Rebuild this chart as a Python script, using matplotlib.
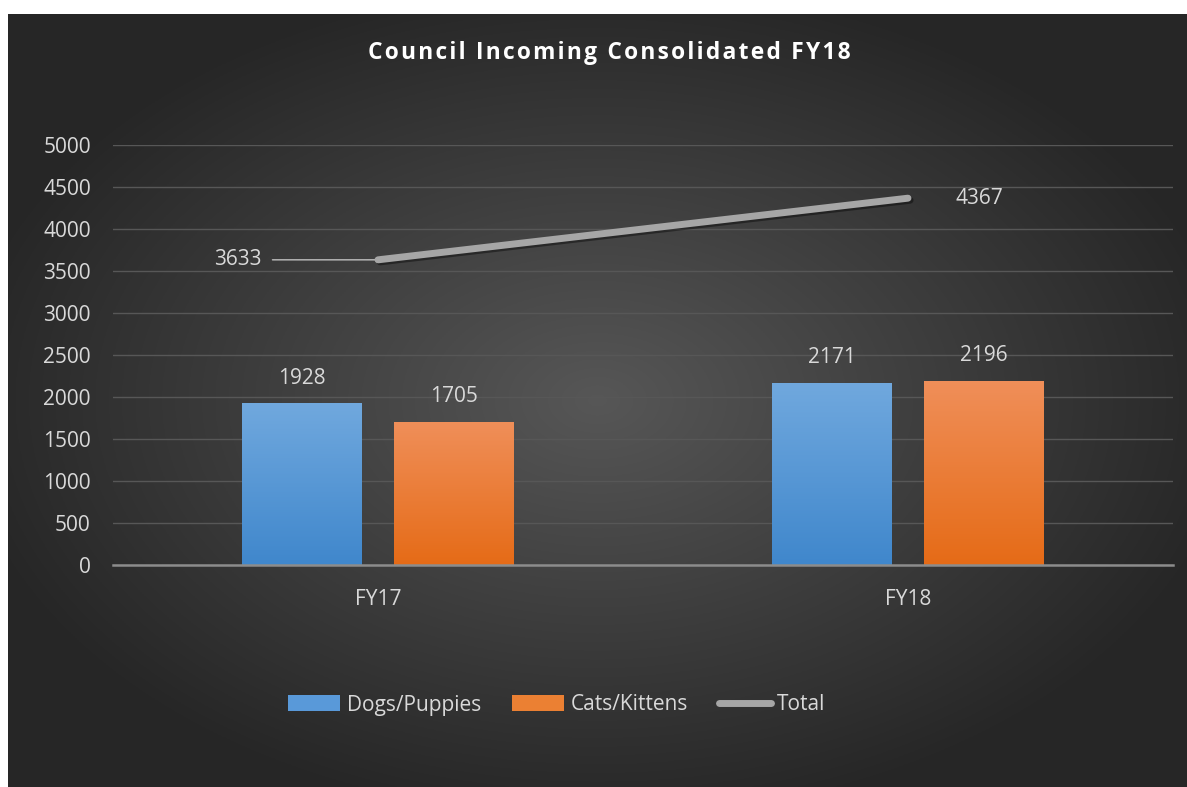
import numpy as np
import matplotlib.pyplot as plt
from matplotlib.patches import Patch
from matplotlib.lines import Line2D
import matplotlib.patheffects as pe

plt.rcParams['font.family'] = ['Open Sans', 'DejaVu Sans']

# Data
categories = ['FY17', 'FY18']
dogs = [1928, 2171]
cats = [1705, 2196]
total = [3633, 4367]
series_names = ['Dogs/Puppies', 'Cats/Kittens', 'Total']
yticks = list(range(0, 5001, 500))

txt = '#d9d9d9'
W, H = 1187, 787
fig = plt.figure(figsize=(W / 100, H / 100), dpi=100)
fig.patch.set_facecolor('white')

# dark panel with radial gradient
bg = fig.add_axes([8 / W, 0, 1 - 8 / W, 1 - 14 / H])
bg.set_axis_off()
yy, xx = np.mgrid[0:1:400j, 0:1:600j]
r = np.sqrt(((xx - 0.5) / 0.75) ** 2 + ((yy - 0.5) / 0.75) ** 2)
shade = np.clip(0.34 - 0.26 * r, 0.15, 0.34)
img = np.dstack([shade, shade, shade])
bg.imshow(img, extent=[0, 1, 0, 1], aspect='auto', origin='lower')
bg.set_xlim(0, 1)
bg.set_ylim(0, 1)

ax = fig.add_axes([113 / W, 1 - 565 / H, (1173 - 113) / W, (565 - 145) / H])
ax.patch.set_alpha(0)
x = np.arange(len(categories))
bw = 0.226
off = 0.143

def gradient_bars(bars, top, bottom):
    for b in bars:
        grad = np.linspace(0, 1, 100).reshape(-1, 1, 1)
        c = np.array(bottom) * (1 - grad) + np.array(top) * grad
        bx, by = b.get_x(), b.get_y()
        im = ax.imshow(c, extent=[bx, bx + b.get_width(), by, by + b.get_height()],
                       origin='lower', aspect='auto', zorder=2)
        im.set_clip_path(b)

blue_top, blue_bot = (0.44, 0.66, 0.87), (0.25, 0.53, 0.80)
org_top, org_bot = (0.94, 0.56, 0.35), (0.90, 0.42, 0.09)

b1 = ax.bar(x - off, dogs, bw, color=(0.35, 0.6, 0.85), zorder=2)
b2 = ax.bar(x + off, cats, bw, color=(0.92, 0.5, 0.2), zorder=2)
gradient_bars(b1, blue_top, blue_bot)
gradient_bars(b2, org_top, org_bot)

ax.plot(x, total, color='#a6a6a6', lw=5, solid_capstyle='round', zorder=4,
        path_effects=[pe.SimpleLineShadow(offset=(1.5, -1.5), alpha=0.4), pe.Normal()])

fs = 15
for xi, v in zip(x - off, dogs):
    ax.annotate(str(v), (xi, v), xytext=(0, 18), textcoords='offset points',
                ha='center', va='center', color=txt, fontsize=fs)
for xi, v in zip(x + off, cats):
    ax.annotate(str(v), (xi, v), xytext=(0, 18), textcoords='offset points',
                ha='center', va='center', color=txt, fontsize=fs)

# total labels
ax.annotate(str(total[0]), (x[0], total[0]), xytext=(-84, 0), textcoords='offset points',
            ha='right', va='center', color=txt, fontsize=fs,
            arrowprops=dict(arrowstyle='-', color='#bfbfbf', lw=1, shrinkA=6, shrinkB=0))
ax.annotate(str(total[1]), (x[1], total[1]), xytext=(34, 0), textcoords='offset points',
            ha='left', va='center', color=txt, fontsize=fs)

ax.set_xlim(-0.5, 1.5)
ax.set_ylim(0, 5000)
ax.set_yticks(yticks)
ax.set_xticks(x)
ax.set_xticklabels(categories)
ax.tick_params(axis='both', length=0, colors=txt, labelsize=fs)
ax.tick_params(axis='y', pad=16)
ax.tick_params(axis='x', pad=17)
ax.yaxis.grid(True, color='#575757', lw=1, zorder=0)
ax.set_axisbelow(True)
for s in ['top', 'right', 'left']:
    ax.spines[s].set_visible(False)
ax.spines['bottom'].set_color('#8c8c8c')
ax.spines['bottom'].set_linewidth(1.8)
ax.spines['bottom'].set_zorder(5)

fig.text(609 / W, 1 - 53 / H, '\u200a'.join('Council Incoming Consolidated FY18'),
         ha='center', va='center', color='white', fontsize=16.4, fontweight='bold')

handles = [Patch(facecolor=(0.35, 0.6, 0.85)), Patch(facecolor=(0.92, 0.5, 0.2)),
           Line2D([], [], color='#a6a6a6', lw=5, solid_capstyle='round')]
leg = fig.legend(handles, series_names, loc='center', bbox_to_anchor=(557 / W, 1 - 705 / H),
                 ncol=3, frameon=False, fontsize=fs, labelcolor=txt,
                 handlelength=2.5, handleheight=0.8, handletextpad=0.3, columnspacing=1.5)

fig.savefig('out.png', dpi=100, facecolor=fig.get_facecolor())
